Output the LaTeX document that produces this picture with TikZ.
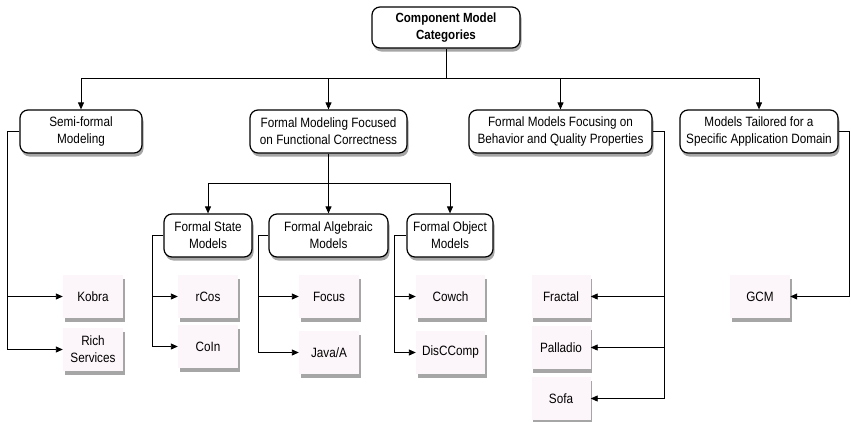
\documentclass[tikz,border=0pt]{standalone}
\usepackage{fontspec}
\setmainfont[FakeStretch=0.87]{Liberation Sans}
\usetikzlibrary{arrows.meta,shadows}
\definecolor{leaf}{RGB}{252,245,249}
\begin{document}
\begin{tikzpicture}[x=1pt,y=-1pt,
  shad/.style={drop shadow={shadow xshift=1.5pt,shadow yshift=-3.5pt,opacity=0.35,fill=black}},
  cat/.style={draw,line width=1.2pt,rounded corners=8pt,fill=white,align=center,inner sep=0pt,
    minimum height=43pt,font=\fontsize{13.5}{17}\selectfont,shad},
  leafbox/.style={fill=leaf,align=center,inner sep=0pt,minimum width=60pt,minimum height=43pt,
    font=\fontsize{13.5}{17}\selectfont,shad},
  conn/.style={line width=0.9pt,-{Triangle[length=7pt,width=6pt]}},
  ln/.style={line width=0.9pt}]
\useasboundingbox (0,0) rectangle (851,421);
% categories
\node[cat,minimum width=148pt,minimum height=41pt,font=\fontsize{13.3}{17}\selectfont\bfseries] (root) at (446,27.5) {Component Model\\Categories};
\node[cat,minimum width=122pt] (semi) at (81,131.5) {Semi-formal\\Modeling};
\node[cat,minimum width=157pt] (fmf) at (328.5,131.5) {Formal Modeling Focused\\on Functional Correctness};
\node[cat,minimum width=183pt] (fmb) at (560.5,131.5) {Formal Models Focusing on\\Behavior and Quality Properties};
\node[cat,minimum width=158pt] (mt) at (759,131.5) {Models Tailored for a\\Specific Application Domain};
\node[cat,minimum width=88pt] (fs) at (208,235.5) {Formal State\\Models};
\node[cat,minimum width=119pt] (fa) at (328.5,235.5) {Formal Algebraic\\Models};
\node[cat,minimum width=86pt] (fo) at (450,235.5) {Formal Object\\Models};
% leaves
\node[leafbox] (kobra) at (93,296.5) {Kobra};
\node[leafbox] (rich) at (93,349.5) {Rich\\Services};
\node[leafbox] (rcos) at (208,296.5) {rCos};
\node[leafbox] (coin) at (208,346.5) {CoIn};
\node[leafbox] (focus) at (329,296.5) {Focus};
\node[leafbox] (java) at (329,352.5) {Java/A};
\node[leafbox,minimum width=69pt] (cowch) at (450.5,296.5) {Cowch};
\node[leafbox,minimum width=69pt] (disc) at (450.5,352.5) {DisCComp};
\node[leafbox,minimum width=59pt] (fractal) at (561,296.5) {Fractal};
\node[leafbox,minimum width=59pt] (palladio) at (561,347.5) {Palladio};
\node[leafbox,minimum width=59pt] (sofa) at (561,398.5) {Sofa};
\node[leafbox] (gcm) at (760,296.5) {GCM};
% junction coordinates
\coordinate (j0) at (446,78);
\coordinate (j1) at (328.5,183);
\coordinate (xs) at (7,0);
\coordinate (xfs) at (152,0);
\coordinate (xfa) at (258,0);
\coordinate (xfo) at (394,0);
\coordinate (xfb) at (664,0);
\coordinate (xmt) at (849.5,0);
% top level
\draw[ln] (root.south) -- (j0);
\draw[conn] (j0) -| (semi.north);
\draw[conn] (j0) -| (mt.north);
\draw[conn] (fmf.north |- j0) -- (fmf.north);
\draw[conn] (fmb.north |- j0) -- (fmb.north);
% semi-formal
\draw[conn] (semi.west) -| (xs |- kobra) -- (kobra.west);
\draw[conn] (xs |- kobra) -- (xs |- rich) -- (rich.west);
% functional correctness
\draw[ln] (fmf.south) -- (j1);
\draw[conn] (j1) -| (fs.north);
\draw[conn] (j1) -| (fo.north);
\draw[conn] (j1) -- (fa.north);
\draw[conn] (fs.west) -| (xfs |- rcos) -- (rcos.west);
\draw[conn] (xfs |- rcos) -- (xfs |- coin) -- (coin.west);
\draw[conn] (fa.west) -| (xfa |- focus) -- (focus.west);
\draw[conn] (xfa |- focus) -- (xfa |- java) -- (java.west);
\draw[conn] (fo.west) -| (xfo |- cowch) -- (cowch.west);
\draw[conn] (xfo |- cowch) -- (xfo |- disc) -- (disc.west);
% behaviour
\draw[conn] (fmb.east) -| (xfb |- fractal) -- (fractal.east);
\draw[conn] (xfb |- fractal) -- (xfb |- palladio) -- (palladio.east);
\draw[conn] (xfb |- palladio) -- (xfb |- sofa) -- (sofa.east);
% tailored
\draw[conn] (mt.east) -| (xmt |- gcm) -- (gcm.east);
\end{tikzpicture}
\end{document}
